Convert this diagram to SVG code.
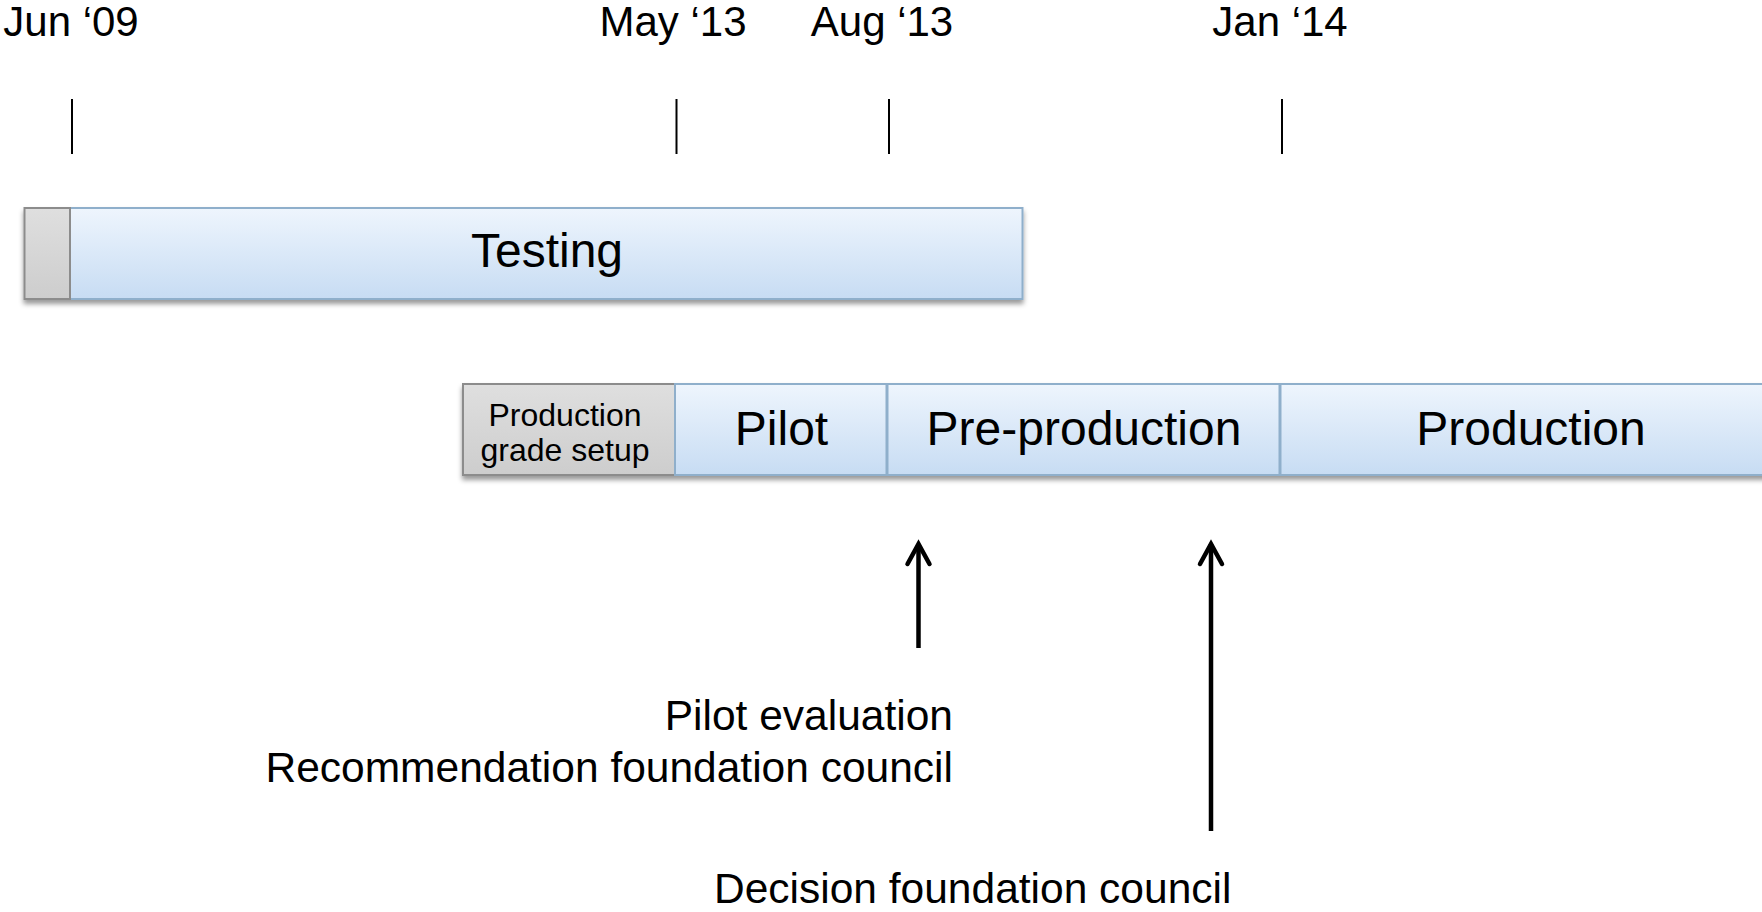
<svg xmlns="http://www.w3.org/2000/svg" width="1762" height="912" viewBox="0 0 1762 912">
<defs>
<linearGradient id="blue" x1="0" y1="0" x2="0" y2="1">
<stop offset="0" stop-color="#EEF5FD"/>
<stop offset="1" stop-color="#C7DCF3"/>
</linearGradient>
<linearGradient id="gray" x1="0" y1="0" x2="0" y2="1">
<stop offset="0" stop-color="#DFDFDF"/>
<stop offset="1" stop-color="#CDCDCD"/>
</linearGradient>
<filter id="shadow" x="-5%" y="-20%" width="110%" height="150%">
<feDropShadow dx="0" dy="4" stdDeviation="2.5" flood-color="#000" flood-opacity="0.4"/>
</filter>
<marker id="head" viewBox="0 0 30 30" refX="25" refY="15" markerWidth="30" markerHeight="30" markerUnits="userSpaceOnUse" orient="auto">
<path d="M5,4 L25,15 L5,26" fill="none" stroke="#000" stroke-width="4.5" stroke-linecap="round" stroke-linejoin="miter"/>
</marker>
</defs>
<style>
text{font-family:"Liberation Sans",Arial,Helvetica,sans-serif;fill:#000}
.date{font-size:42px}
.big{font-size:48px;text-anchor:middle}
.small{font-size:32px;text-anchor:middle}
.note{font-size:42.5px}
.tick{stroke:#000;stroke-width:2}
.bbox{fill:url(#blue);stroke:#8FAFCB;stroke-width:2}
.gbox{fill:url(#gray);stroke:#8C8C8C;stroke-width:2}
.arrow{stroke:#000;stroke-width:4.5;fill:none}
</style>
<rect width="1762" height="912" fill="#fff"/>
<g id="axis">
<text class="date" x="71" y="36" text-anchor="middle">Jun ‘09</text>
<text class="date" x="673" y="36" text-anchor="middle">May ‘13</text>
<text class="date" x="882" y="36" text-anchor="middle">Aug ‘13</text>
<text class="date" x="1280" y="36" text-anchor="middle">Jan ‘14</text>
<line class="tick" x1="72" y1="99" x2="72" y2="154"/>
<line class="tick" x1="676.5" y1="99" x2="676.5" y2="154"/>
<line class="tick" x1="889" y1="99" x2="889" y2="154"/>
<line class="tick" x1="1282" y1="99" x2="1282" y2="154"/>
</g>
<g id="testing-row" filter="url(#shadow)">
<rect class="bbox" x="70" y="208" width="952.5" height="91"/>
<rect class="gbox" x="24.5" y="208" width="45.5" height="91"/>
</g>
<g id="testing">
<text class="big" x="547" y="267">Testing</text>
</g>
<g id="phases" filter="url(#shadow)">
<rect class="gbox" x="463" y="384" width="212" height="91"/>
<rect class="bbox" x="675" y="384" width="211.5" height="91"/>
<rect class="bbox" x="887.5" y="384" width="392" height="91"/>
<rect class="bbox" x="1280.5" y="384" width="500" height="91"/>
</g>
<g id="setup">
<text class="small" x="565" y="426">Production</text>
<text class="small" x="565" y="461">grade setup</text>
</g>
<g id="pilot">
<text class="big" x="781.5" y="445">Pilot</text>
</g>
<g id="preproduction">
<text class="big" x="1084" y="445">Pre-production</text>
</g>
<g id="production">
<text class="big" x="1531" y="445">Production</text>
</g>
<g id="connectors">
<line class="arrow" x1="918.5" y1="648" x2="918.5" y2="544" marker-end="url(#head)"/>
<line class="arrow" x1="1211" y1="831" x2="1211" y2="544" marker-end="url(#head)"/>
</g>
<g id="pilot-evaluation">
<text class="note" x="953" y="730" text-anchor="end">Pilot evaluation</text>
<text class="note" x="953" y="782" text-anchor="end">Recommendation foundation council</text>
</g>
<g id="decision">
<text class="note" x="714" y="903">Decision foundation council</text>
</g>
</svg>
